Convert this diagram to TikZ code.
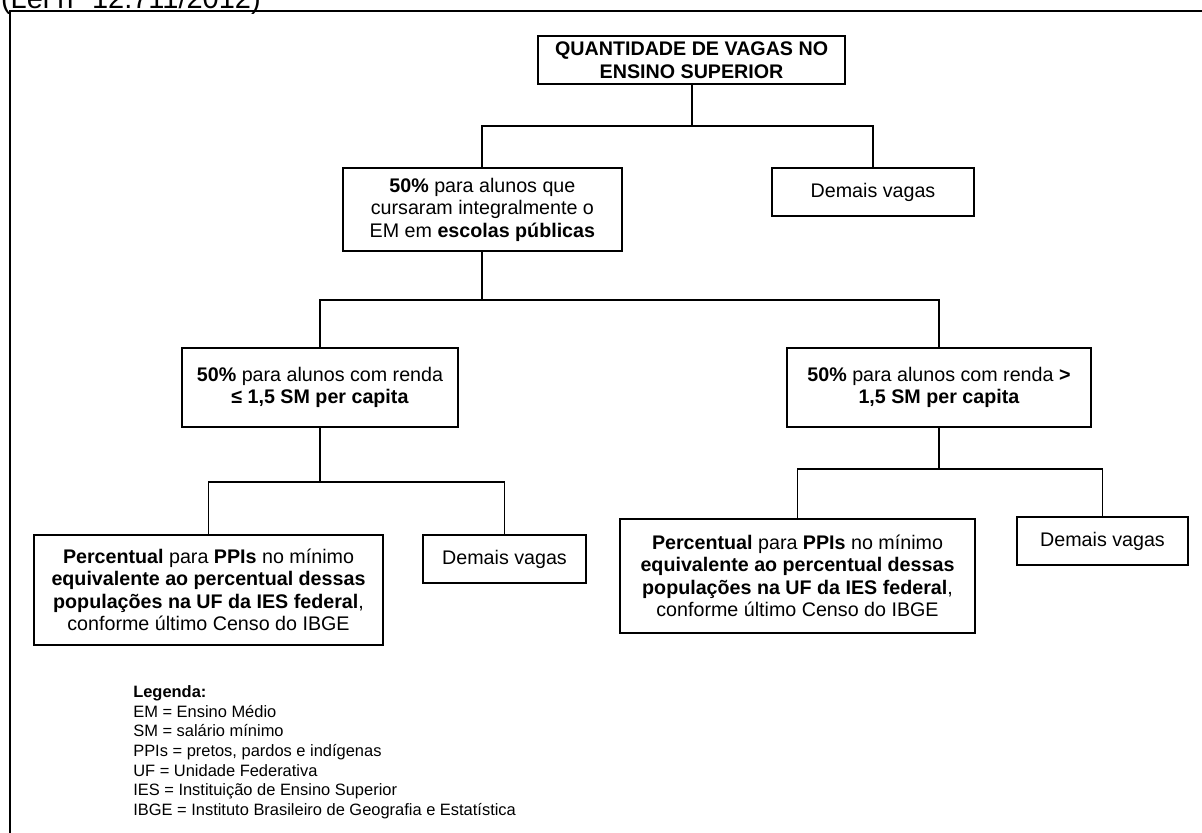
\documentclass[tikz,border=0pt]{standalone}
\usepackage{fontspec}
\setmainfont{Liberation Sans}
\usepackage{tikz}
\usetikzlibrary{positioning}
\tikzset{
  caixa/.style={draw, line width=1.4pt, inner sep=0pt, align=center,
    font=\fontsize{14}{16}\selectfont},
  linha/.style={line width=1.4pt},
}

\begin{document}
\begin{tikzpicture}
			\useasboundingbox (0,0) rectangle (30.05,-20.8);
			\clip (0,0) rectangle (30.05,-20.8);
			% titulo cortado e moldura
			\node[anchor=base west, inner sep=0pt, font=\fontsize{20.6}{24}\selectfont] (lei) at (0.02,-0.2) {(Lei nº 12.711/2012)};
			\draw [line width=2.1pt] (0.25,-21.) -- (0.25,-0.275) -- (30.3,-0.275);
			
			\node[caixa, minimum width=7.675cm, minimum height=1.2cm] (topo) at (17.29,-1.5) {\textbf{QUANTIDADE DE VAGAS NO}\\\textbf{ENSINO SUPERIOR}};
			\node[caixa, minimum width=6.975cm, minimum height=2.075cm] (metade) at (12.06,-5.24) {\textbf{50\%} para alunos que\\cursaram integralmente o\\EM em \textbf{escolas públicas}};
			\node[caixa, minimum width=5.05cm, minimum height=1.2cm] (demais) at (21.825,-4.8) {Demais vagas};
			
			\node[caixa, minimum width=6.9cm, minimum height=1.975cm] (rendabaixa) at (8.,-9.69) {\textbf{50\%} para alunos com renda\\\textbf{≤ 1,5 SM per capita}};
			\node[caixa, minimum width=7.6cm, minimum height=1.975cm] (rendaalta) at (23.475,-9.69) {\textbf{50\%} para alunos com renda \textbf{>}\\\textbf{1,5 SM per capita}};
			
			\node[caixa, minimum width=8.725cm, minimum height=2.75cm] (ppiesq) at (5.2125,-14.75) {\textbf{Percentual} para \textbf{PPIs} no mínimo\\\textbf{equivalente ao percentual dessas}\\\textbf{populações na UF da IES federal},\\conforme último Censo do IBGE};
			\node[caixa, minimum width=4.075cm, minimum height=1.2cm] (demaisesq) at (12.6125,-13.975) {Demais vagas};
			\node[caixa, minimum width=8.875cm, minimum height=2.85cm] (ppidir) at (19.9375,-14.4) {\textbf{Percentual} para \textbf{PPIs} no mínimo\\\textbf{equivalente ao percentual dessas}\\\textbf{populações na UF da IES federal},\\conforme último Censo do IBGE};
			\node[caixa, minimum width=4.275cm, minimum height=1.2cm] (demaisdir) at (27.5625,-13.525) {Demais vagas};
			
			\draw [linha] (topo.south) -- ++(0,-1.025) coordinate (j1) -| (metade.north);
			\draw [linha] (j1) -| (demais.north);
			\draw [linha] (metade.south) -- ++(0,-1.1975) coordinate (j2) -| (rendabaixa.north);
			\draw [linha] (j2) -| (rendaalta.north);
			\draw [linha] (rendabaixa.south) -- ++(0,-1.3475) coordinate (j3) -| (ppiesq.north);
			\draw [linha] (j3) -| (demaisesq.north);
			\draw [linha] (rendaalta.south) -- ++(0,-1.0225) coordinate (j4) -| (ppidir.north);
			\draw [linha] (j4) -| (demaisdir.north);
			
			% legenda
			\node[anchor=north west, inner sep=0pt, align=left, font=\fontsize{11.7}{14}\selectfont] (legenda) at (3.325,-17.13) {\textbf{Legenda:}\\EM = Ensino Médio\\SM = salário mínimo\\PPIs = pretos, pardos e indígenas\\UF = Unidade Federativa\\IES = Instituição de Ensino Superior\\IBGE = Instituto Brasileiro de Geografia e Estatística};
		\end{tikzpicture}
\end{document}
